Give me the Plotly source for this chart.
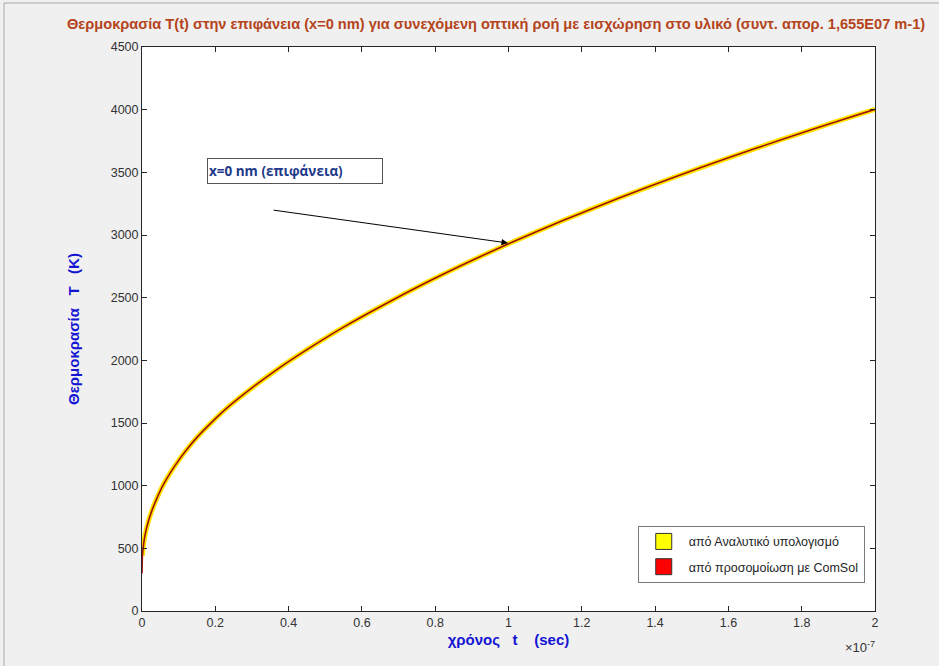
import plotly.graph_objects as go

# ---- data (time in units of 1e-7 s, temperature in K)
t_analytic = [0.001, 0.002, 0.004, 0.007, 0.01, 0.015, 0.02, 0.03, 0.04, 0.055, 0.07, 0.09,
              0.12, 0.15, 0.19, 0.24, 0.3, 0.37, 0.45, 0.55, 0.66, 0.78, 0.9, 1.0,
              1.15, 1.3, 1.45, 1.6, 1.75, 1.9, 2.0]
T_analytic = [440, 470, 525, 585, 630, 690, 740, 825, 895, 990, 1068, 1160,
              1280, 1385, 1505, 1640, 1780, 1930, 2085, 2265, 2444, 2627, 2797, 2930,
              3118, 3293, 3459, 3616, 3766, 3910, 4003]
t_comsol = [0.0, 0.0005, 0.001, 0.002, 0.004, 0.007, 0.01, 0.015, 0.02, 0.03, 0.04, 0.055, 0.07, 0.09,
            0.12, 0.15, 0.19, 0.24, 0.3, 0.37, 0.45, 0.55, 0.66, 0.78, 0.9, 1.0,
            1.15, 1.3, 1.45, 1.6, 1.75, 1.9, 2.0]
T_comsol = [300, 370, 435, 470, 525, 585, 630, 690, 740, 825, 895, 990, 1068, 1160,
            1280, 1385, 1505, 1640, 1780, 1930, 2085, 2265, 2444, 2627, 2797, 2930,
            3118, 3293, 3459, 3616, 3766, 3910, 4003]
x_tick_vals = [0, 0.2, 0.4, 0.6, 0.8, 1.0, 1.2, 1.4, 1.6, 1.8, 2.0]
x_tick_text = ["0", "0.2", "0.4", "0.6", "0.8", "1", "1.2", "1.4", "1.6", "1.8", "2"]
y_tick_vals = [0, 500, 1000, 1500, 2000, 2500, 3000, 3500, 4000, 4500]
scale = 1e-7

legend_names = ["από Αναλυτικό υπολογισμό", "από προσομοίωση με ComSol"]

FONT = "Liberation Sans, Arial"

fig = go.Figure()
fig.add_trace(go.Scatter(x=[v * scale for v in t_analytic], y=T_analytic, mode="lines",
                         line=dict(color="#FFE600", width=5, shape="spline", smoothing=0.6),
                         showlegend=False, hoverinfo="skip"))
fig.add_trace(go.Scatter(x=[v * scale for v in t_comsol], y=T_comsol, mode="lines",
                         line=dict(color="#A0100C", width=1.6, shape="spline", smoothing=0.6),
                         showlegend=False, hoverinfo="skip"))
# legend entries
fig.add_trace(go.Scatter(x=[None], y=[None], mode="markers", name=legend_names[0], legendgroup="a",
                         marker=dict(symbol="square", size=16, color="#FFFF00",
                                     line=dict(color="#333333", width=1))))
fig.add_trace(go.Scatter(x=[None], y=[None], mode="markers", name=legend_names[1], legendgroup="b",
                         marker=dict(symbol="square", size=16, color="#FF0000",
                                     line=dict(color="#333333", width=1))))

axis_common = dict(showline=True, linecolor="#262626", linewidth=1, mirror="ticks",
                   ticks="inside", ticklen=5, tickcolor="#262626", showgrid=False,
                   zeroline=False, tickfont=dict(family=FONT, size=12.5, color="#333333"))

fig.update_xaxes(range=[0, 2e-7], tickvals=[v * scale for v in x_tick_vals], ticktext=x_tick_text,
                 title=dict(text="<b>χρόνος   t    (sec)</b>", standoff=5,
                            font=dict(family=FONT, size=15, color="#1414D2")),
                 **axis_common)
fig.update_yaxes(range=[0, 4500], tickvals=y_tick_vals,
                 title=dict(text="<b>Θερμοκρασία   T   (K)</b>", standoff=27,
                            font=dict(family=FONT, size=15, color="#1414D2")),
                 **axis_common)

fig.update_layout(
    width=939, height=666,
    paper_bgcolor="#F0F0F0", plot_bgcolor="#FFFFFF",
    margin=dict(l=142, r=64, t=47, b=55),
    title=dict(text="<b>Θερμοκρασία T(t) στην επιφάνεια (x=0 nm) για συνεχόμενη οπτική ροή με εισχώρηση στο υλικό (συντ. απορ. 1,655E07 m-1)</b>",
               x=67 / 939, xref="container", xanchor="left", y=1 - 24 / 666, yanchor="middle",
               font=dict(family=FONT, size=14.6, color="#B4441C")),
    legend=dict(x=0.986, xanchor="right", y=0.05, yanchor="bottom",
                bgcolor="#FFFFFF", bordercolor="#7A7A7A", borderwidth=1,
                font=dict(family=FONT, size=12.5, color="#262626"),
                tracegroupgap=6, itemsizing="trace", itemwidth=40),
    showlegend=True,
)

# text box and arrow
fig.add_annotation(x=0.4175e-7, y=3511, xref="x", yref="y", showarrow=False,
                   text="<b>x=0 nm (επιφάνεια)</b>",
                   font=dict(family="Open Sans", size=13.5, color="#1F3A8A"),
                   bgcolor="#FFFFFF", bordercolor="#555555", borderwidth=1,
                   width=172, height=22, align="left", xanchor="center", yanchor="middle")
fig.add_annotation(x=0.9986e-7, y=2936, ax=0.355e-7, ay=3200, xref="x", yref="y",
                   axref="x", ayref="y", showarrow=True, arrowhead=2, arrowsize=1.3,
                   arrowwidth=1, arrowcolor="#000000", text="")
# exponent label
fig.add_annotation(x=1, y=0, xref="paper", yref="paper", xanchor="right", yanchor="top",
                   xshift=2, yshift=-26, showarrow=False,
                   text="×10<sup>-7</sup>",
                   font=dict(family=FONT, size=13, color="#333333"))
# window frame
fig.add_shape(type="rect", xref="paper", yref="paper",
              x0=(4 - 142) / 733, x1=(960 - 142) / 733, y0=(611 - 700) / 564, y1=(611 - 3) / 564,
              line=dict(color="#A8A8A8", width=1), fillcolor="rgba(0,0,0,0)", layer="below")

fig.write_html("out.html", config={"displayModeBar": False},
               post_script="document.body.style.margin='0';document.body.style.background='#F0F0F0';")
